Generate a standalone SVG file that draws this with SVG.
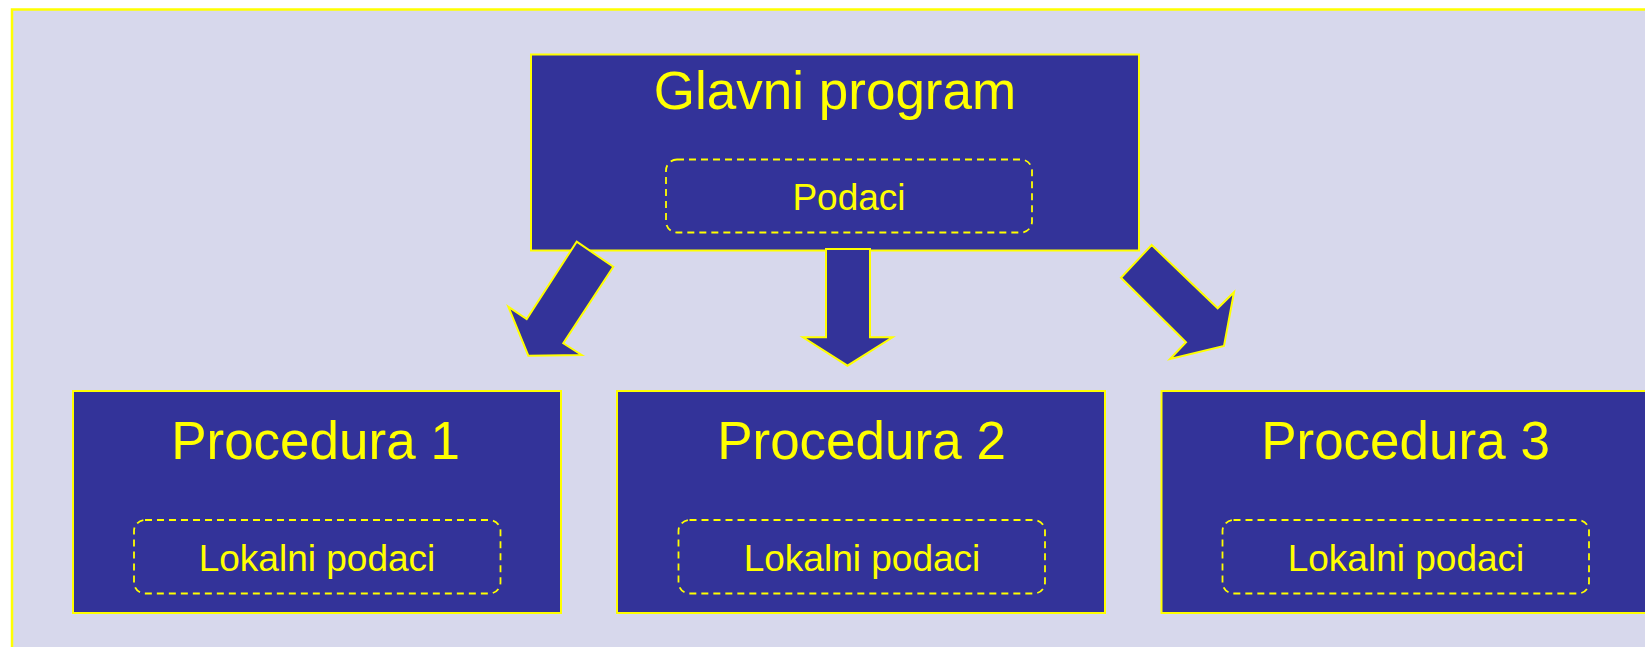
<svg xmlns="http://www.w3.org/2000/svg" width="1645" height="647" viewBox="0 0 1645 647">
<style>
.bg{fill:#d7d8ec;stroke:#ffff00;stroke-width:2.5}
.box{fill:#333399;stroke:#ffff00;stroke-width:2}
.inner{fill:none;stroke:#ffff00;stroke-width:1.8;stroke-dasharray:7 5}
.arrow{fill:#333399;stroke:#ffff00;stroke-width:2;stroke-linejoin:miter}
.big{font-family:"Liberation Sans",Arial,sans-serif;font-size:53px;fill:#ffff00;text-anchor:middle}
.small{font-family:"Liberation Sans",Arial,sans-serif;font-size:37px;fill:#ffff00;text-anchor:middle}
</style>
<rect class="bg" x="12" y="9.5" width="1650" height="660"/>
<g id="glavni">
<rect class="box" x="531" y="54.5" width="608" height="196"/>
<text class="big" x="835" y="109">Glavni program</text>
<rect class="inner" x="666" y="159.5" width="366" height="73" rx="11"/>
<text class="small" x="849" y="210">Podaci</text>
</g>
<g id="proc1">
<rect class="box" x="73" y="391" width="488" height="222"/>
<text class="big" x="315.5" y="459">Procedura 1</text>
<rect class="inner" x="134" y="520" width="366.5" height="73.5" rx="11"/>
<text class="small" x="317" y="570.5">Lokalni podaci</text>
</g>
<g id="proc2">
<rect class="box" x="617" y="391" width="488" height="222"/>
<text class="big" x="861.5" y="459">Procedura 2</text>
<rect class="inner" x="678.5" y="520" width="366.5" height="73.5" rx="11"/>
<text class="small" x="862" y="570.5">Lokalni podaci</text>
</g>
<g id="proc3">
<rect class="box" x="1161.5" y="391" width="490" height="222"/>
<text class="big" x="1405.5" y="459">Procedura 3</text>
<rect class="inner" x="1222.5" y="520" width="366.5" height="73.5" rx="11"/>
<text class="small" x="1406" y="570.5">Lokalni podaci</text>
</g>
<g id="connectors">
<polygon class="arrow" points="576.7,241.7 613.3,266.7 563.3,343.3 581.7,355 528.3,355.7 508.3,306.7 526.7,319"/>
<polygon class="arrow" points="826,249 870,249 870,337.3 892.5,337.3 847.5,365.7 803,337.3 826,337.3"/>
<polygon class="arrow" points="1151.7,245 1217.7,308.3 1234,292.3 1224,346 1170,359 1186,342.3 1121,277.7"/>
</g>
</svg>
